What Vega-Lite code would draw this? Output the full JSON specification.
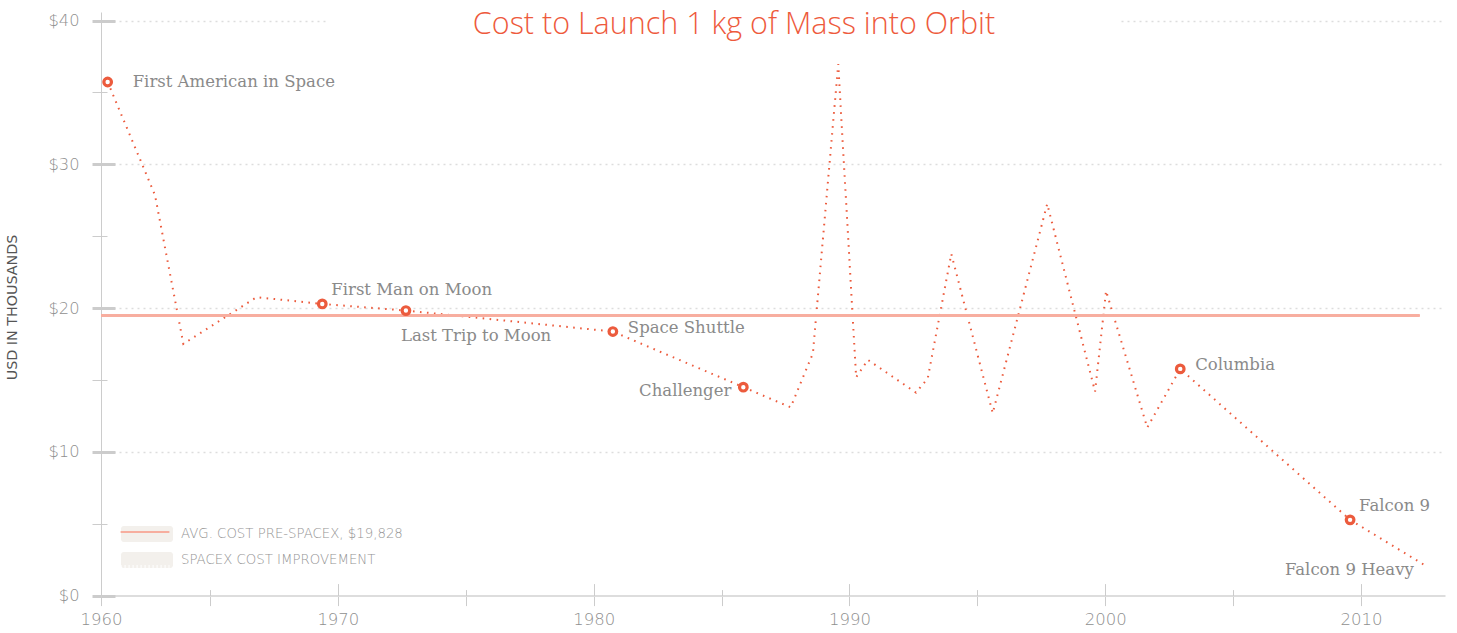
{
  "$schema": "https://vega.github.io/schema/vega-lite/v6.json",
  "width": 1344,
  "height": 583.6,
  "autosize": "none",
  "padding": {"left": 101, "top": 12, "right": 12, "bottom": 37.4},
  "background": "white",
  "config": {"view": {"stroke": null}, "font": "Roboto"},
  "title": {
    "text": "Cost to Launch 1 kg of Mass into Orbit",
    "font": "Open Sans",
    "fontSize": 30.5,
    "fontWeight": 300,
    "color": "#ee5a3c",
    "anchor": "middle",
    "dx": -39,
    "offset": -28,
    "zindex": 1
  },
  "data": {
    "values": [
      {"year": 1961.0, "cost": 35.73, "event": "First American in Space"},
      {"year": 1962.85, "cost": 27.87},
      {"year": 1963.96, "cost": 17.51},
      {"year": 1966.82, "cost": 20.76},
      {"year": 1969.39, "cost": 20.29, "event": "First Man on Moon"},
      {"year": 1972.66, "cost": 19.83, "event": "Last Trip to Moon"},
      {"year": 1980.75, "cost": 18.37, "event": "Space Shuttle"},
      {"year": 1985.85, "cost": 14.5, "event": "Challenger"},
      {"year": 1987.7, "cost": 13.1},
      {"year": 1988.57, "cost": 16.86},
      {"year": 1989.56, "cost": 36.97},
      {"year": 1990.26, "cost": 15.19},
      {"year": 1990.72, "cost": 16.4},
      {"year": 1992.6, "cost": 14.12},
      {"year": 1993.06, "cost": 15.12},
      {"year": 1993.98, "cost": 23.77},
      {"year": 1995.6, "cost": 12.69},
      {"year": 1997.73, "cost": 27.25},
      {"year": 1999.6, "cost": 14.19},
      {"year": 2000.03, "cost": 21.2},
      {"year": 2001.64, "cost": 11.69},
      {"year": 2002.93, "cost": 15.77, "event": "Columbia"},
      {"year": 2009.57, "cost": 5.27, "event": "Falcon 9"},
      {"year": 2012.53, "cost": 2.07, "event": "Falcon 9 Heavy"}
    ]
  },
  "resolve": {"axis": {"x": "independent", "y": "independent"}},
  "layer": [
    {
      "transform": [{"filter": "false"}],
      "mark": {"type": "rect"},
      "encoding": {
        "x": {"field": "year", "type": "quantitative", "axis": null},
        "y": {"field": "cost", "type": "quantitative", "axis": null},
        "fill": {
          "datum": "AVG. COST PRE-SPACEX, $19,828",
          "type": "nominal",
          "scale": {"domain": ["AVG. COST PRE-SPACEX, $19,828", "SPACEX COST IMPROVEMENT"], "range": ["#f3f0ec", "#f3f0ec"]},
          "legend": {
            "orient": "none",
            "legendX": 38,
            "legendY": 514,
            "title": null,
            "zindex": 1,
            "symbolType": "M-2.9,-1H2.9A0.35,0.35 0 0 1 3.25,-0.65V0.65A0.35,0.35 0 0 1 2.9,1H-2.9A0.35,0.35 0 0 1 -3.25,0.65V-0.65A0.35,0.35 0 0 1 -2.9,-1Z",
            "symbolSize": 256,
            "symbolStrokeWidth": 0,
            "symbolOpacity": 1,
            "labelFont": "DejaVu Sans",
            "labelFontSize": 13.3,
            "labelFontWeight": 200,
            "labelColor": "#949494",
            "labelOffset": 26,
            "labelLimit": 0,
            "rowPadding": 10
          }
        }
      }
    },
    {
      "mark": {"type": "line", "stroke": "#ec5b3d", "strokeWidth": 2, "strokeDash": [1.6, 5.4], "interpolate": "linear"},
      "encoding": {
        "x": {
          "field": "year",
          "type": "quantitative",
          "scale": {"domain": [1960.74, 2013.28], "nice": false, "zero": false},
          "axis": {
            "orient": "bottom",
            "values": [1960.74, 1965, 1970, 1975, 1980, 1985, 1990, 1995, 2000, 2005, 2010],
            "labelExpr": "datum.value < 1962 ? '1960' : (datum.value % 10 === 0 ? format(datum.value, 'd') : '')",
            "title": null,
            "grid": false,
            "domainColor": "#dddddd",
            "domainWidth": 2,
            "tickColor": "#cccccc",
            "tickWidth": 1,
            "tickSize": 10,
            "labelFont": "DejaVu Sans",
            "labelFontSize": 16.5,
            "labelFontWeight": 200,
            "labelColor": "#8f8f8f",
            "labelPadding": 6,
            "labelFlush": false,
            "labelOverlap": false
          }
        },
        "y": {
          "field": "cost",
          "type": "quantitative",
          "scale": {"domain": [0, 40.6], "nice": false, "zero": true},
          "axis": {
            "orient": "left",
            "values": [0, 5, 10, 15, 20, 25, 30, 35, 40],
            "labelExpr": "datum.value % 10 === 0 ? '$' + datum.value : ''",
            "title": "USD IN THOUSANDS",
            "titleFont": "DejaVu Sans",
            "titleFontSize": 14.3,
            "titleFontWeight": 400,
            "titleColor": "#555555",
            "titleAngle": -90,
            "titleX": -89,
            "titleY": 295,
            "titleAlign": "center",
            "titleBaseline": "middle",
            "grid": true,
            "gridColor": "#dddddd",
            "gridDash": [2, 4],
            "gridWidth": 1.5,
            "gridOpacity": {"condition": {"test": "datum.value % 10 === 0 && datum.value > 0", "value": 1}, "value": 0},
            "domainColor": "#cccccc",
            "domainWidth": 1,
            "tickColor": "#cccccc",
            "tickSize": 9,
            "tickWidth": {"condition": {"test": "datum.value % 10 === 0", "value": 3}, "value": 1},
            "labelFont": "DejaVu Sans",
            "labelFontSize": 16.3,
            "labelFontWeight": 200,
            "labelColor": "#8f8f8f",
            "labelPadding": 13
          }
        }
      }
    },
    {
      "mark": {"type": "rule", "strokeWidth": 2},
      "encoding": {
        "y": {"datum": 19.48, "type": "quantitative", "axis": null},
        "x": {"datum": 1960.74, "type": "quantitative", "axis": null},
        "x2": {"datum": 2012.27},
        "stroke": {
          "datum": "line",
          "type": "nominal",
          "scale": {"domain": ["line", "stripes"], "range": ["#f7ae9f", "#ffffff"]},
          "legend": {
            "orient": "none",
            "legendX": 38,
            "legendY": 514,
            "title": null,
            "zindex": 2,
            "symbolType": "M-3.05,0H3.05",
            "symbolSize": 256,
            "symbolStrokeWidth": 2,
            "labelExpr": "''",
            "rowPadding": 10,
            "encode": {
              "symbols": {
                "update": {
                  "stroke": {"signal": "datum.value === 'line' ? '#e9553a' : '#ffffff'"},
                  "strokeWidth": {"signal": "datum.value === 'line' ? 2 : 12"},
                  "strokeDash": {"signal": "datum.value === 'line' ? [1, 0] : [1, 3]"}
                }
              }
            }
          }
        }
      }
    },
    {
      "mark": {"type": "rect", "fill": "#ffffff"},
      "encoding": {
        "x": {"datum": 1969.61, "type": "quantitative", "axis": null},
        "x2": {"datum": 2000.55},
        "y": {"datum": 39.75, "type": "quantitative", "axis": null},
        "y2": {"datum": 40.25}
      }
    },
    {
      "transform": [{"filter": "datum.event && datum.event !== 'Falcon 9 Heavy'"}],
      "mark": {"type": "point", "shape": "circle", "filled": false, "fill": "#ffffff", "stroke": "#ec5b3d", "strokeWidth": 3.2, "size": 58, "opacity": 1},
      "encoding": {
        "x": {
          "field": "year",
          "type": "quantitative",
          "axis": {
            "orient": "top",
            "offset": -583.6,
            "values": [1960.74, 1965, 1970, 1975, 1980, 1985, 1990, 1995, 2000, 2005, 2010],
            "labels": false,
            "domain": false,
            "grid": false,
            "title": null,
            "tickColor": "#cccccc",
            "tickWidth": 1,
            "tickSize": {"condition": {"test": "datum.value % 10 === 5", "value": 6}, "value": 12}
          }
        },
        "y": {
          "field": "cost",
          "type": "quantitative",
          "axis": {
            "orient": "right",
            "offset": -1344,
            "values": [0, 5, 10, 15, 20, 25, 30, 35, 40],
            "labels": false,
            "domain": false,
            "grid": false,
            "title": null,
            "tickColor": "#cccccc",
            "tickWidth": {"condition": {"test": "datum.value % 10 === 0", "value": 3}, "value": 1},
            "tickSize": {"condition": {"test": "datum.value % 10 === 0", "value": 14}, "value": 6}
          }
        }
      }
    },
    {
      "transform": [{"filter": "datum.event === 'First American in Space'"}],
      "mark": {"type": "text", "font": "DejaVu Serif", "fontSize": 16.5, "color": "#8a8a8a", "align": "left", "baseline": "middle", "dx": 25, "dy": 0},
      "encoding": {
        "x": {"field": "year", "type": "quantitative", "axis": null},
        "y": {"field": "cost", "type": "quantitative", "axis": null},
        "text": {"field": "event"}
      }
    },
    {
      "transform": [{"filter": "datum.event === 'Space Shuttle' || datum.event === 'Columbia'"}],
      "mark": {"type": "text", "font": "DejaVu Serif", "fontSize": 16.5, "color": "#8a8a8a", "align": "left", "baseline": "middle", "dx": 15, "dy": -4},
      "encoding": {
        "x": {"field": "year", "type": "quantitative", "axis": null},
        "y": {"field": "cost", "type": "quantitative", "axis": null},
        "text": {"field": "event"}
      }
    },
    {
      "transform": [{"filter": "datum.event === 'First Man on Moon' || datum.event === 'Falcon 9'"}],
      "mark": {"type": "text", "font": "DejaVu Serif", "fontSize": 16.5, "color": "#8a8a8a", "align": "left", "baseline": "middle", "dx": 9, "dy": -14},
      "encoding": {
        "x": {"field": "year", "type": "quantitative", "axis": null},
        "y": {"field": "cost", "type": "quantitative", "axis": null},
        "text": {"field": "event"}
      }
    },
    {
      "transform": [{"filter": "datum.event === 'Last Trip to Moon'"}],
      "mark": {"type": "text", "font": "DejaVu Serif", "fontSize": 16.5, "color": "#8a8a8a", "align": "left", "baseline": "middle", "dx": -5, "dy": 25},
      "encoding": {
        "x": {"field": "year", "type": "quantitative", "axis": null},
        "y": {"field": "cost", "type": "quantitative", "axis": null},
        "text": {"field": "event"}
      }
    },
    {
      "transform": [{"filter": "datum.event === 'Challenger' || datum.event === 'Falcon 9 Heavy'"}],
      "mark": {"type": "text", "font": "DejaVu Serif", "fontSize": 16.5, "color": "#8a8a8a", "align": "right", "baseline": "middle", "dx": -12, "dy": 4},
      "encoding": {
        "x": {"field": "year", "type": "quantitative", "axis": null},
        "y": {"field": "cost", "type": "quantitative", "axis": null},
        "text": {"field": "event"}
      }
    }
  ]
}
